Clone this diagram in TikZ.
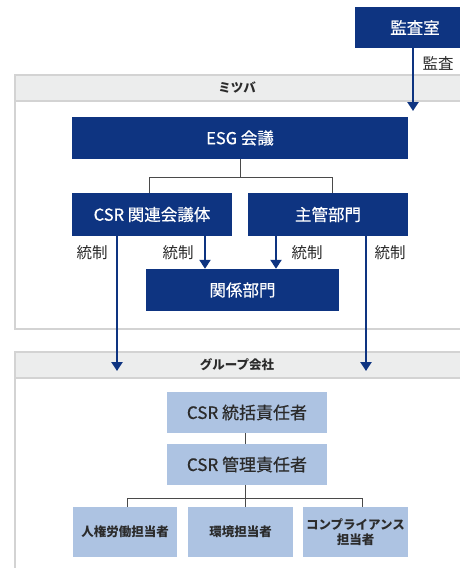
\documentclass[tikz,border=0pt]{standalone}
\usepackage{fontspec}
\setmainfont{Noto Sans CJK JP}
\newfontfamily\medfont{Noto Sans CJK JP}[FakeBold=0.6]
\usetikzlibrary{arrows.meta}
\definecolor{navy}{HTML}{0E3481}
\definecolor{lightblue}{HTML}{ADC3E2}
\definecolor{headgrey}{HTML}{ECEDED}
\definecolor{framegrey}{HTML}{D3D3D3}
\definecolor{txt}{HTML}{2B2B2B}
\definecolor{treeline}{HTML}{4A4A4A}
\tikzset{
  darkbox/.style={fill=navy, text=white, inner sep=0pt, minimum height=42pt,
    font=\medfont\fontsize{16.5}{19}\selectfont},
  lightbox/.style={fill=lightblue, text=txt, inner sep=0pt, minimum height=41pt,
    font=\medfont\fontsize{17}{20}\selectfont},
  smallbox/.style={fill=lightblue, text=txt, inner sep=0pt, minimum height=50pt,
    minimum width=105pt, align=center, font=\bfseries\fontsize{12.5}{15}\selectfont},
  frame/.style={draw=framegrey, line width=1.2pt, fill=white},
  header/.style={draw=framegrey, line width=1.2pt, fill=headgrey},
  title/.style={text=txt, font=\bfseries\fontsize{12.5}{14}\selectfont},
  lbl/.style={text=txt, font=\fontsize{15.5}{18}\selectfont},
  arr/.style={draw=navy, line width=2.6pt, -{Triangle[width=11pt,length=9pt]}},
  tree/.style={draw=treeline, line width=0.9pt}
}
\begin{document}
\begin{tikzpicture}[x=1pt,y=-1pt]
\useasboundingbox (0,0) rectangle (460,568);
\clip (0,0) rectangle (460,568);
% frames
\draw[frame] (15,75) rectangle (475,329);
\draw[header] (15,75) rectangle (475,101);
\node[title] (mitsuba) at (237,88) {ミツバ};
\draw[frame] (15,352) rectangle (475,600);
\draw[header] (15,352) rectangle (475,378);
\node[title] (group) at (237,365) {グループ会社};
% top
\node[darkbox, minimum width=120pt, minimum height=41pt] (audit) at (415,27.5) {監査室};
\coordinate (auditend) at (413,111);
\draw[arr] (audit.south -| auditend) -- (auditend);
\node[lbl] (lkansa) at (438,63) {監査};
% mitsuba boxes
\node[darkbox, minimum width=336pt] (esg) at (240,138) {ESG 会議};
\node[darkbox, minimum width=160pt, minimum height=43pt] (csr) at (152,214.5) {CSR 関連会議体};
\node[darkbox, minimum width=160pt, minimum height=43pt] (shukan) at (328,214.5) {主管部門};
\node[darkbox, minimum width=193pt] (kankei) at (242.5,290) {関係部門};
\draw[tree] (esg.south) -- ++(0,18) -| ([xshift=-3pt]csr.north);
\draw[tree] (esg.south) -- ++(0,18) -| ([xshift=4pt]shukan.north);
% arrows
\coordinate (g1) at (117,371);
\coordinate (g2) at (366,371);
\draw[arr] (csr.south -| g1) -- (g1);
\draw[arr] ([xshift=53pt]csr.south) -- ([xshift=53pt]csr.south |- kankei.north);
\draw[arr] ([xshift=-52pt]shukan.south) -- ([xshift=-52pt]shukan.south |- kankei.north);
\draw[arr] (shukan.south -| g2) -- (g2);
\node[lbl] (l1) at (92,253) {統制};
\node[lbl] (l2) at (178,253) {統制};
\node[lbl] (l3) at (307,253) {統制};
\node[lbl] (l4) at (390,253) {統制};
% group boxes
\node[lightbox, minimum width=160pt] (tokatsu) at (247,412.5) {CSR 統括責任者};
\node[lightbox, minimum width=160pt] (kanri) at (247,464.5) {CSR 管理責任者};
\node[smallbox, minimum width=104pt] (jinken) at (125,532) {人権労働担当者};
\node[smallbox] (kankyo) at (240.5,532) {環境担当者};
\node[smallbox] (comp) at (355.5,532) {コンプライアンス\\担当者};
\draw[tree] ([xshift=-2pt]tokatsu.south) -- ([xshift=-2pt]kanri.north);
\draw[tree] ([xshift=-2pt]kanri.south) -- ([xshift=-2pt]kanri.south |- kankyo.north);
\draw[tree] ([xshift=-2pt]kanri.south) -- ++(0,13) -| ([xshift=2pt]jinken.north);
\draw[tree] ([xshift=-2pt]kanri.south) -- ++(0,13) -| ([xshift=6.5pt]comp.north);
\end{tikzpicture}
\end{document}
